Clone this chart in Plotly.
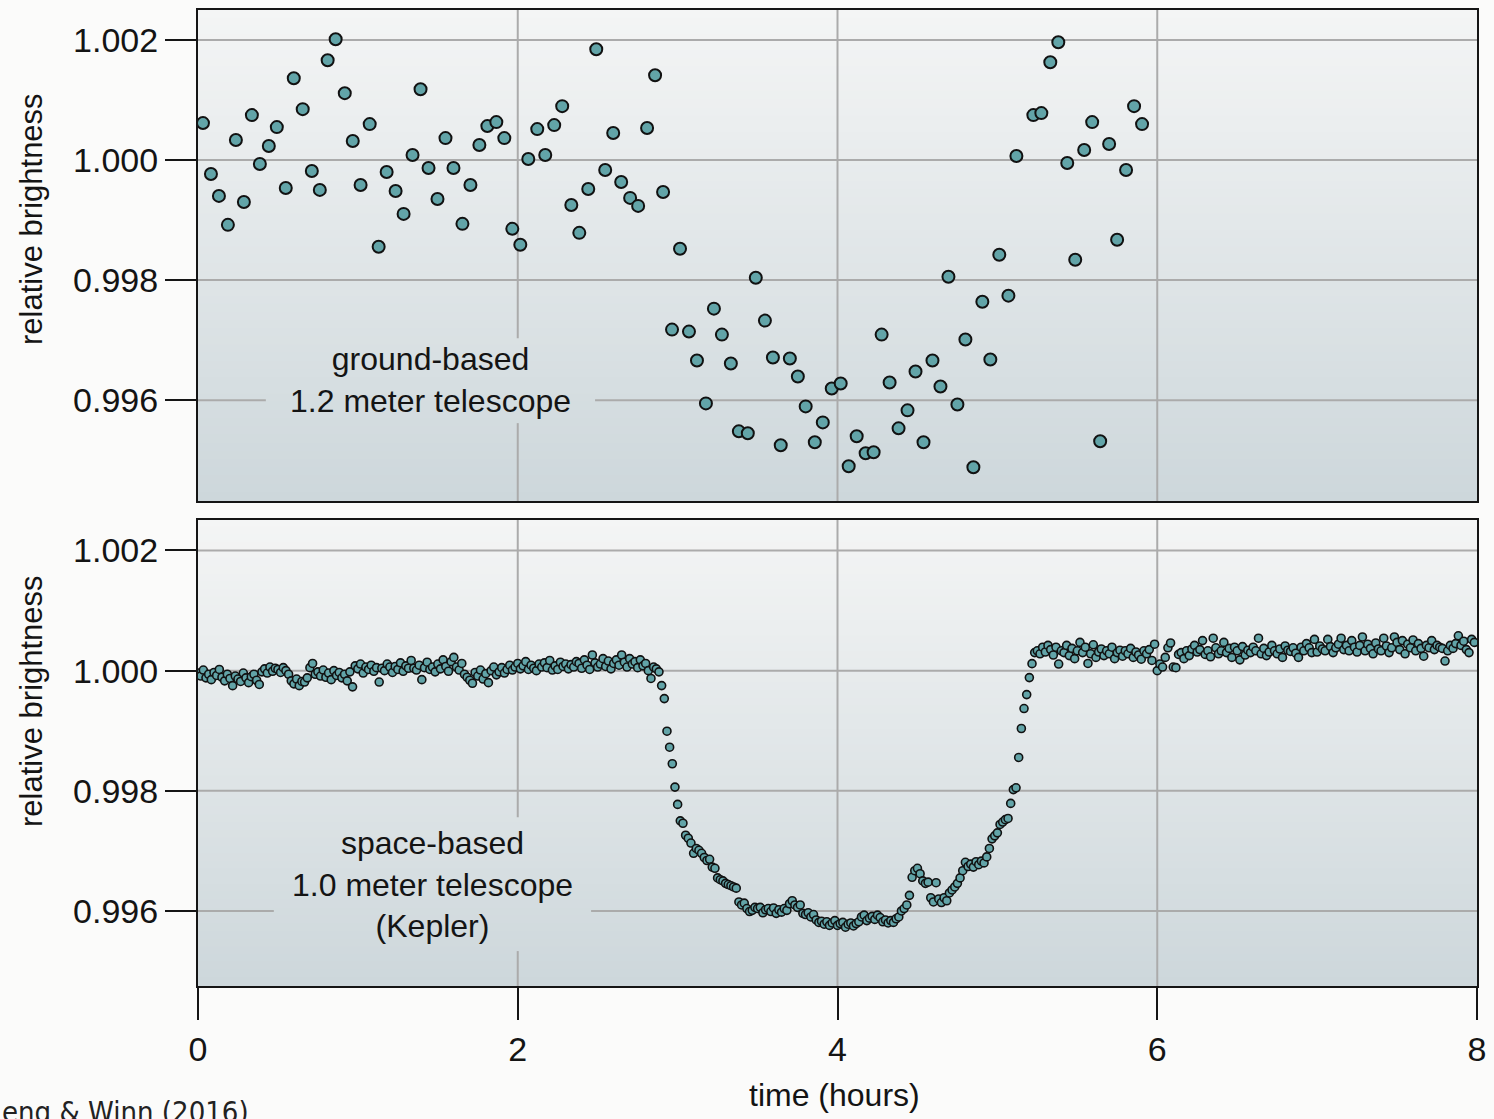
import numpy as np
import plotly.graph_objects as go

# ---------------- data ----------------
# ground-based 1.2 m telescope: time (hours) and relative brightness
ground_time_h = [0.031, 0.081, 0.131, 0.187, 0.237, 0.287, 0.337, 0.387, 0.443, 0.493,
                 0.549, 0.599, 0.655, 0.712, 0.762, 0.811, 0.861, 0.918, 0.968, 1.017,
                 1.074, 1.130, 1.180, 1.236, 1.286, 1.342, 1.392, 1.442, 1.498, 1.548,
                 1.598, 1.654, 1.704, 1.760, 1.810, 1.866, 1.916, 1.966, 2.016, 2.066,
                 2.122, 2.172, 2.228, 2.278, 2.335, 2.385, 2.441, 2.491, 2.547, 2.597,
                 2.647, 2.703, 2.753, 2.809, 2.859, 2.909, 2.965, 3.015, 3.071, 3.121,
                 3.177, 3.227, 3.277, 3.333, 3.383, 3.439, 3.489, 3.546, 3.596, 3.645,
                 3.702, 3.752, 3.801, 3.858, 3.908, 3.964, 4.020, 4.070, 4.120, 4.176,
                 4.226, 4.276, 4.326, 4.382, 4.438, 4.488, 4.538, 4.594, 4.644, 4.694,
                 4.750, 4.800, 4.850, 4.906, 4.956, 5.012, 5.069, 5.119, 5.225, 5.275,
                 5.331, 5.381, 5.437, 5.487, 5.543, 5.593, 5.643, 5.699, 5.749, 5.805,
                 5.855, 5.905]
ground_brightness = [1.000615, 0.999767, 0.999402, 0.998920, 1.000332, 0.999302, 1.000748, 0.999934, 1.000233, 1.000548,
                     0.999535, 1.001362, 1.000847, 0.999817, 0.999502, 1.001661, 1.002010, 1.001113, 1.000316, 0.999585,
                     1.000598, 0.998555, 0.999801, 0.999485, 0.999103, 1.000083, 1.001179, 0.999867, 0.999352, 1.000365,
                     0.999867, 0.998937, 0.999585, 1.000249, 1.000565, 1.000631, 1.000365, 0.998854, 0.998588, 1.000017,
                     1.000515, 1.000083, 1.000581, 1.000897, 0.999252, 0.998787, 0.999518, 1.001844, 0.999834, 1.000449,
                     0.999635, 0.999369, 0.999236, 1.000532, 1.001412, 0.999468, 0.997176, 0.998522, 0.997143, 0.996661,
                     0.995947, 0.997525, 0.997093, 0.996611, 0.995482, 0.995449, 0.998040, 0.997326, 0.996711, 0.995249,
                     0.996694, 0.996395, 0.995897, 0.995299, 0.995631, 0.996196, 0.996279, 0.994900, 0.995399, 0.995116,
                     0.995133, 0.997093, 0.996296, 0.995532, 0.995831, 0.996478, 0.995299, 0.996661, 0.996229, 0.998056,
                     0.995930, 0.997010, 0.994884, 0.997641, 0.996678, 0.998422, 0.997741, 1.000066, 1.000748, 1.000781,
                     1.001628, 1.001960, 0.999950, 0.998339, 1.000166, 1.000631, 0.995316, 1.000266, 0.998671, 0.999834,
                     1.000897, 1.000598]

# space-based (Kepler) 1.0 m telescope: 1-minute cadence, deviation from 1 in ppm
kepler_cadence_min = 1.0
kepler_pre_ppm = [
    -40, -90, 10, -120, -60, -150, -30, -80, 20, -110,
    -170, -60, -130, -250, -90, -140, -180, -40, -120, -200,
    -100, -60, -160, -230, -20, 30, -40, 60, -10, 40,
    20, -30, 50, 0, -60, -170, -220, -140, -250, -180,
    -190, -120, 50, 120, -60, -20, -90, 10, -110, -40,
    -150, 0, -80, -30, -120, -60, -170, -20, -270, 80,
    30, 110, -40, 60, 20, 90, -10, 50, -190, 40,
    0, 110, 60, -30, 70, 20, 130, -10, 80, 40,
    170, 40, 10, 90, -150, 50, 140, 20, 60, -20,
    110, 30, 180, 70, -10, 150, 220, 60, 10, 120,
    -60, -110, -160, -210, -30, -90, 10, -140, -50, -200,
    0, 60, -70, -20, 50, -40, 20, 90, 10, 60,
    120, 30, 80, 150, 20, 90, 40, 0, 110, 60,
    130, 50, 170, 10, 80, 20, 140, 70, 110, 30,
    100, 60, 150, 120, 40, 180, 90, 20, 260, 130,
    60, 110, 200, 70, 160, 30, 120, 180, 90, 260,
    140, 60, 200, 110, 150, 50, 180, 80, 120, 0,
    -130, 60, 30, -20]
kepler_transit_ppm = [
    -249, -465, -1008, -1274, -1550, -1938, -2226, -2500, -2540, -2740,
    -2790, -2870, -3040, -2960, -2990, -3040, -3110, -3160, -3140, -3270,
    -3290, -3450, -3480, -3500, -3540, -3560, -3580, -3600, -3620, -3850,
    -3900, -3870, -3960, -4010, -3990, -3940, -3960, -3940, -4030, -3980,
    -3960, -4010, -3950, -4040, -3980, -4020, -3960, -3990, -3880, -3830,
    -3900, -3940, -3900, -4040, -4060, -4030, -4100, -4060, -4150, -4190,
    -4170, -4220, -4180, -4240, -4200, -4160, -4240, -4210, -4190, -4270,
    -4220, -4200, -4250, -4210, -4180, -4100, -4070, -4160, -4120, -4090,
    -4140, -4070, -4110, -4180, -4150, -4200, -4160, -4190, -4130, -4100,
    -4000, -3960, -3900, -3740, -3440, -3330, -3290, -3380, -3500, -3540,
    -3520, -3780, -3850, -3530, -3800, -3860, -3780, -3830, -3700, -3650,
    -3600, -3540, -3450, -3330, -3190, -3260, -3220, -3270, -3180, -3230,
    -3170, -3200, -3100, -2960, -2800, -2750, -2700, -2560, -2520, -2480,
    -2460, -2210, -1980, -1950, -1445, -963, -631, -399, -116, 116,
    300]
kepler_post_ppm = [
    330, 280, 390, 310, 420, 350, 260, 390, 110, 330,
    300, 420, 250, 370, 200, 330, 470, 300, 390, 120,
    280, 430, 220, 310, 360, 250, 330, 280, 390, 200,
    300, 340, 240, 330, 280, 370, 220, 310, 260, 190,
    330, 280, 350, 170, 440,
    0, 110, 60, 220, 380, 460, 60, 50, 270, 300,
    200, 330, 250, 360, 420, 310, 350, 500, 270, 330,
    230, 540, 380, 280, 330, 470, 300, 370, 220, 390,
    330, 180, 400, 260, 340, 300, 390, 330, 540, 280,
    370, 250, 310, 420, 330, 280, 360, 220, 410, 340,
    320, 380, 290, 220, 390, 330, 450, 380, 300, 520,
    310, 410, 360, 330, 520, 400, 300, 380, 440, 540,
    350, 420, 330, 500, 390, 310, 420, 560, 330, 440,
    370, 280, 460, 360, 330, 540, 410, 300, 380, 560,
    470, 350, 500, 280, 440, 380, 510, 330, 450, 370,
    240, 420, 380, 500, 350, 420, 390, 370, 160, 330,
    420, 370, 450, 580, 420, 490, 350, 300, 520, 470]

y_tickvals = [0.996, 0.998, 1.000, 1.002]
y_ticktext = ["0.996", "0.998", "1.000", "1.002"]
x_tickvals = [0, 2, 4, 6, 8]
x_ticktext = ["0", "2", "4", "6", "8"]

kepler_ppm = kepler_pre_ppm + kepler_transit_ppm + kepler_post_ppm
kepler_time_h = np.arange(len(kepler_ppm)) * kepler_cadence_min / 60.0
kepler_brightness = 1.0 + np.array(kepler_ppm) * 1e-6

# ---------------- layout geometry ----------------
W, H = 1494, 1119
ML, MR, MT, MB = 198, 14, 8, 133
PW = W - ML - MR
PH = H - MT - MB
X_RANGE = [0, 8]
TOP_RANGE = [0.994322, 1.002498]
BOT_RANGE = [0.994751, 1.002508]


def xp(px):
    return (px - ML) / PW


def yp(py):
    return (H - MB - py) / PH


top_dom = [yp(500), 1.0]
bot_dom = [0.0, yp(519)]

FONT = "Liberation Sans, Arial, Helvetica, sans-serif"
TXT = "#141414"
GRID = "#ababab"
FILL = "#62a4a8"

top_c = np.array([244, 245, 245])
bot_c = np.array([205, 215, 219])


def grad_color(f):  # f=0 top, 1 bottom
    c = top_c + (bot_c - top_c) * f
    return "rgb(%d,%d,%d)" % tuple(int(round(v)) for v in c)


fig = go.Figure()

fig.add_trace(go.Scatter(
    x=ground_time_h, y=ground_brightness, mode="markers",
    marker=dict(size=12, color=FILL, line=dict(color="#111111", width=2)),
    xaxis="x", yaxis="y", showlegend=False, hoverinfo="skip"))

fig.add_trace(go.Scatter(
    x=kepler_time_h, y=kepler_brightness, mode="markers",
    marker=dict(size=8, color=FILL, line=dict(color="#111111", width=1.6)),
    xaxis="x2", yaxis="y2", showlegend=False, hoverinfo="skip"))

shapes = []
# gradient backgrounds
N = 60
for xref, yref in (("x domain", "y domain"), ("x2 domain", "y2 domain")):
    for k in range(N):
        f = (k + 0.5) / N
        shapes.append(dict(type="rect", xref=xref, yref=yref,
                           x0=0, x1=1, y0=1 - (k + 1) / N, y1=1 - k / N + 0.002,
                           fillcolor=grad_color(f), line=dict(width=0), layer="below"))

# gridlines drawn as shapes so they can stop behind the panel labels
# label boxes in pixel coords: (x0, x1, ytop, ybot)
PXH = PW / (X_RANGE[1] - X_RANGE[0])


def px_to_t(px):
    return (px - ML) / PXH


panel_defs = [
    # xref, yref, y range, panel top/bottom px, label box px
    ("x", "y", TOP_RANGE, 8, 500, (266, 596, 337, 422)),
    ("x2", "y2", BOT_RANGE, 519, 986, (274, 592, 817, 951)),
]
gl = dict(color=GRID, width=2)
for xref, yref, yr, ptop, pbot, box in panel_defs:
    ph = pbot - ptop
    bx0, bx1 = px_to_t(box[0]), px_to_t(box[1])
    by_hi = yr[1] - (box[2] - ptop) / ph * (yr[1] - yr[0])
    by_lo = yr[1] - (box[3] - ptop) / ph * (yr[1] - yr[0])
    for v in y_tickvals:
        if by_lo < v < by_hi:
            segs = [(X_RANGE[0], bx0), (bx1, X_RANGE[1])]
        else:
            segs = [(X_RANGE[0], X_RANGE[1])]
        for a, b in segs:
            shapes.append(dict(type="line", xref=xref, yref=yref, x0=a, x1=b, y0=v, y1=v,
                               line=gl, layer="below"))
    for t in x_tickvals[1:-1]:
        if bx0 < t < bx1:
            segs = [(yr[0], by_lo), (by_hi, yr[1])]
        else:
            segs = [(yr[0], yr[1])]
        for a, b in segs:
            shapes.append(dict(type="line", xref=xref, yref=yref, x0=t, x1=t, y0=a, y1=b,
                               line=gl, layer="below"))

axis_common = dict(showline=True, linecolor="#151515", linewidth=2, mirror=True,
                   showgrid=False, zeroline=False)

fig.update_layout(
    width=W, height=H,
    margin=dict(l=ML, r=MR, t=MT, b=MB),
    paper_bgcolor="#fbfbfa", plot_bgcolor="rgba(0,0,0,0)",
    font=dict(family=FONT, color=TXT, size=33),
    shapes=shapes,
    xaxis=dict(domain=[0, 1], anchor="y", range=X_RANGE, tickvals=x_tickvals,
               showticklabels=False, ticks="", **axis_common),
    yaxis=dict(domain=top_dom, anchor="x", range=TOP_RANGE,
               tickvals=y_tickvals, ticktext=y_ticktext, ticks="outside",
               ticklen=31, tickwidth=2, tickcolor="#151515",
               tickfont=dict(size=34, family=FONT, color=TXT), **axis_common),
    xaxis2=dict(domain=[0, 1], anchor="y2", range=X_RANGE, tickvals=x_tickvals,
                ticktext=x_ticktext, ticks="outside", ticklen=32, tickwidth=2,
                tickcolor="#151515", tickfont=dict(size=34, family=FONT, color=TXT),
                **axis_common),
    yaxis2=dict(domain=bot_dom, anchor="x2", range=BOT_RANGE,
                tickvals=y_tickvals, ticktext=y_ticktext, ticks="outside",
                ticklen=31, tickwidth=2, tickcolor="#151515",
                tickfont=dict(size=34, family=FONT, color=TXT), **axis_common),
)


def A(text, px, py, size, **kw):
    d = dict(text=text, x=xp(px), y=yp(py), xref="paper", yref="paper",
             showarrow=False, xanchor="center", yanchor="middle",
             font=dict(size=size, family=FONT, color=TXT))
    d.update(kw)
    return d


ann = [
    A("relative brightness", 31, 217, 31, textangle=-90),
    A("relative brightness", 31, 700, 31, textangle=-90),
    A("time (hours)", 836, 1095, 32),
    A("ground-based<br>1.2 meter telescope", 431, 379, 32, align="center"),
    A("space-based<br>1.0 meter telescope<br>(Kepler)", 433, 884, 32, align="center"),
    A("eng & Winn (2016)", 0, 1093, 29, xanchor="left", yanchor="top",
      font=dict(size=29, family="Liberation Sans Narrow, DejaVu Sans Condensed, Arial Narrow, sans-serif",
                color="#222222")),
]
fig.update_layout(annotations=ann)

fig.write_html("out.html")
